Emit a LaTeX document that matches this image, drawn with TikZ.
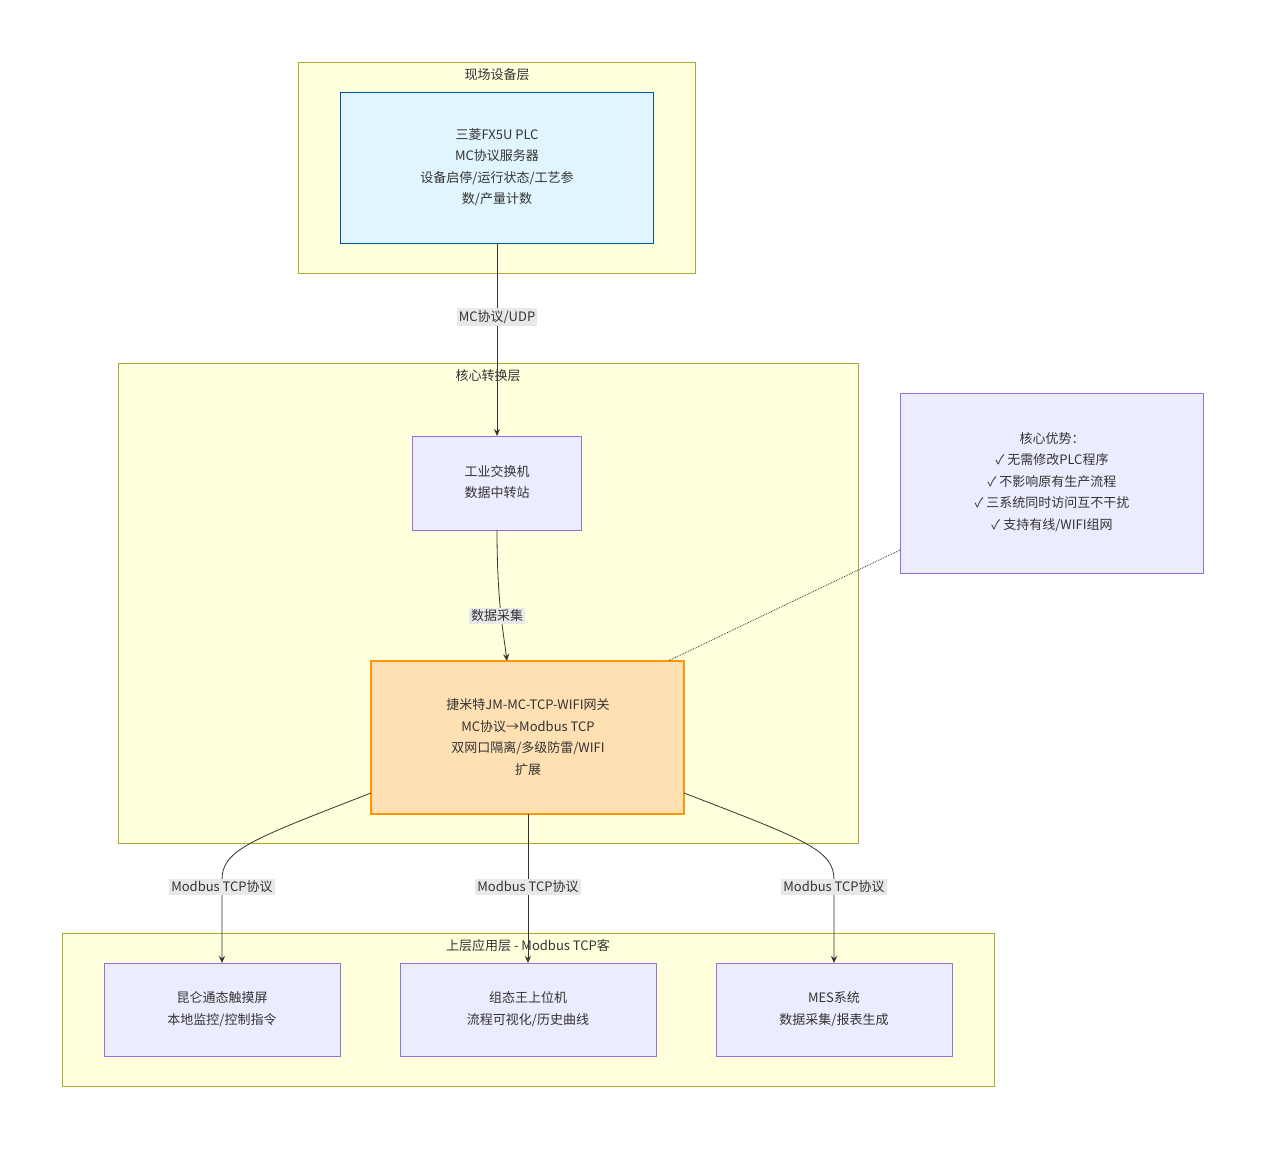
\documentclass[tikz,border=0pt]{standalone}
\usepackage{fontspec}
\setmainfont{Noto Sans CJK SC}
\usetikzlibrary{arrows.meta}
\definecolor{layerf}{HTML}{FFFFDE}\definecolor{layerd}{HTML}{AAAA33}
\definecolor{nf}{HTML}{ECECFF}\definecolor{nd}{HTML}{9370DB}
\definecolor{bf}{HTML}{E1F5FE}\definecolor{bd}{HTML}{01579B}
\definecolor{of}{HTML}{FFE0B2}\definecolor{od}{HTML}{FF9800}
\definecolor{ln}{HTML}{333333}\definecolor{lb}{HTML}{E8E8E8}
\begin{document}
\begin{tikzpicture}[x=1pt,y=-1pt,font=\fontsize{13}{21.5}\selectfont,
 layer/.style={draw=layerd,fill=layerf,line width=0.8pt},
 nbox/.style={draw=nd,fill=nf,line width=0.8pt},
 txt/.style={align=center,text=ln},
 lab/.style={fill=lb,text=ln,inner sep=2pt},
 e/.style={draw=ln,line width=0.8pt,-{Stealth[length=7pt,width=6pt]}}]
\useasboundingbox (0,0) rectangle (1265,1149);
\draw[layer] (298,62) rectangle (695,273);
\node[txt] (t1) at (497,75) {现场设备层};
\draw[layer] (118,363) rectangle (858,843);
\draw[layer] (62,933) rectangle (994,1086);
\draw[draw=bd,fill=bf,line width=0.8pt] (340,92) rectangle (653,243);
\node[txt] (plc) at (497,167) {三菱FX5U PLC\\MC协议服务器\\设备启停/运行状态/工艺参\\数/产量计数};
\draw[nbox] (412,436) rectangle (581,530);
\node[txt] (sw) at (497,482) {工业交换机\\数据中转站};
\draw[draw=od,fill=of,line width=2.2pt] (371,661) rectangle (684,814);
\node[txt] (gw) at (528,737) {捷米特JM-MC-TCP-WIFI网关\\MC协议→Modbus TCP\\双网口隔离/多级防雷/WIFI\\扩展};
\draw[nbox] (900,393) rectangle (1203,573);
\node[txt] (note) at (1052,482) {核心优势：\\✓ 无需修改PLC程序\\✓ 不影响原有生产流程\\✓ 三系统同时访问互不干扰\\✓ 支持有线/WIFI组网};
\draw[nbox] (104,963) rectangle (340,1056);
\draw[nbox] (400,963) rectangle (656,1056);
\draw[nbox] (716,963) rectangle (952,1056);
\node[txt] (a1) at (222,1009) {昆仑通态触摸屏\\本地监控/控制指令};
\node[txt] (a2) at (528,1009) {组态王上位机\\流程可视化/历史曲线};
\node[txt] (a3) at (834,1009) {MES系统\\数据采集/报表生成};
\coordinate (p1) at (497,243); \coordinate (s1) at (497,436);
\coordinate (s2) at (497,530); \coordinate (g1) at (507,661);
\coordinate (gl) at (371,793); \coordinate (gb) at (528,814); \coordinate (gr) at (684,793);
\coordinate (c1) at (222,963); \coordinate (c2) at (528,963); \coordinate (c3) at (834,963);
\coordinate (n1) at (900,550); \coordinate (n2) at (668,661);
\draw[e] (p1) -- (s1);
\node[lab] (l1) at (497,317) {MC协议/UDP};
\node[txt] (t2) at (488,376) {核心转换层};
\draw[e] (s2) .. controls (497,600) and (503,630) .. (g1);
\node[lab] (l2) at (497,616) {数据采集};
\draw[e] (gl) .. controls (250,840) and (222,850) .. (222,880) -- (c1);
\draw[e] (gb) -- (c2);
\draw[e] (gr) .. controls (806,840) and (834,850) .. (834,880) -- (c3);
\node[lab] (l3) at (222,887) {Modbus TCP协议};
\node[lab] (l4) at (528,887) {Modbus TCP协议};
\node[lab] (l5) at (834,887) {Modbus TCP协议};
\node[txt] (t3) at (528,946) {上层应用层 - Modbus TCP客};
\draw[ln,densely dotted,line width=0.8pt] (n1) -- (n2);
\end{tikzpicture}
\end{document}
